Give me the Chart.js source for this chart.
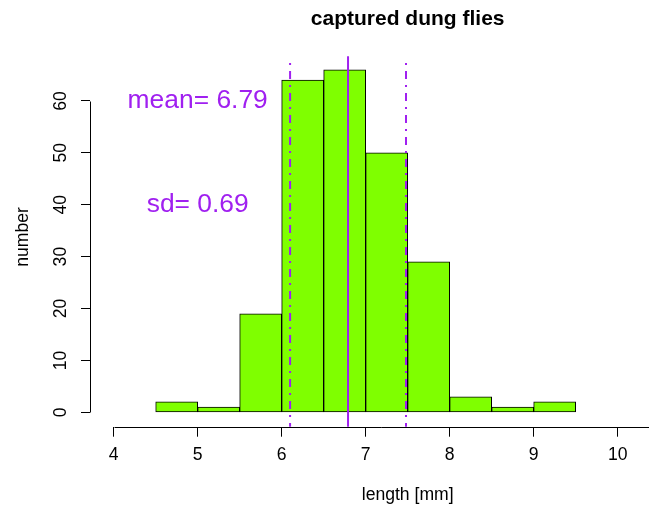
<!DOCTYPE html>
<html>
<head>
<meta charset="utf-8">
<script src="https://cdn.jsdelivr.net/npm/chart.js@4/dist/chart.umd.min.js"></script>
<style>html,body{margin:0;padding:0;background:#fff;}#wrap{width:649px;height:510px;position:relative;}</style>
</head>
<body>
<div id="wrap"><canvas id="c" width="649" height="510"></canvas></div>
<script>
// ---- data ----
const binStarts = [4.5, 5, 5.5, 6, 6.5, 7, 7.5, 8, 8.5, 9];
const binWidth = 0.5;
const counts = [2, 1, 19, 64, 66, 50, 29, 3, 1, 2];
const xTicks = [4, 5, 6, 7, 8, 9, 10];
const yTicks = [0, 10, 20, 30, 40, 50, 60];
const meanValue = 6.79;
const sdValue = 0.69;
const meanLineTop = 68.6;
const sdLineTop = 67.3;
const chartTitle = 'captured dung flies';
const xTitle = 'length [mm]';
const yTitle = 'number';
const meanLabel = 'mean= 6.79';
const sdLabel = 'sd= 0.69';
const meanLabelPos = [5, 60];
const sdLabelPos = [5, 40];

const FONT = "'Liberation Sans', Arial, Helvetica, sans-serif";
const PURPLE = '#A020F0';
Chart.defaults.font.family = FONT;

const barData = binStarts.map((s, i) => ({x: s + binWidth / 2, y: counts[i]}));

const decorPlugin = {
  id: 'decor',
  beforeDatasetsDraw(chart) {
    const {ctx, chartArea, scales: {x, y}} = chart;
    ctx.save();
    ctx.strokeStyle = '#000';
    ctx.lineWidth = 1;
    // x axis line
    const yb = Math.round(chartArea.bottom) + 0.5;
    ctx.beginPath();
    ctx.moveTo(Math.round(x.getPixelForValue(xTicks[0])) + 0.5, yb);
    ctx.lineTo(chart.width, yb);
    ctx.stroke();
    // y axis line
    const xl = Math.round(chartArea.left) + 0.5;
    ctx.beginPath();
    ctx.moveTo(xl, Math.round(y.getPixelForValue(yTicks[0])) + 0.5);
    ctx.lineTo(xl, Math.round(y.getPixelForValue(yTicks[yTicks.length - 1])) + 0.5);
    ctx.stroke();
    ctx.restore();
  },
  afterDatasetsDraw(chart) {
    const {ctx, chartArea, scales: {x, y}} = chart;
    ctx.save();
    // annotations
    ctx.fillStyle = PURPLE;
    ctx.font = '26.4px ' + FONT;
    ctx.textAlign = 'center';
    ctx.textBaseline = 'middle';
    ctx.fillText(meanLabel, x.getPixelForValue(meanLabelPos[0]), y.getPixelForValue(meanLabelPos[1]));
    ctx.fillText(sdLabel, x.getPixelForValue(sdLabelPos[0]), y.getPixelForValue(sdLabelPos[1]));
    // titles (centred on the full R plot region, which extends past the right edge)
    const cx = (x.getPixelForValue(3.72) + x.getPixelForValue(11.28)) / 2;
    ctx.fillStyle = '#000';
    ctx.font = 'bold 21px ' + FONT;
    ctx.textBaseline = 'alphabetic';
    ctx.fillText(chartTitle, cx, 25);
    ctx.font = '17.6px ' + FONT;
    ctx.fillText(xTitle, cx, 500);
    ctx.translate(28.3, 237);
    ctx.rotate(-Math.PI / 2);
    ctx.fillText(yTitle, 0, 0);
    ctx.restore();
  }
};

new Chart(document.getElementById('c'), {
  type: 'bar',
  data: {
    datasets: [
      {
        type: 'line', order: 0,
        data: [{x: meanValue, y: meanLineTop}, {x: meanValue, y: -10}],
        borderColor: PURPLE, borderWidth: 2, pointRadius: 0, fill: false, tension: 0
      },
      {
        type: 'line', order: 0,
        data: [{x: meanValue - sdValue, y: sdLineTop}, {x: meanValue - sdValue, y: -10}],
        borderColor: PURPLE, borderWidth: 2, borderDash: [2, 6, 8, 6], pointRadius: 0, fill: false, tension: 0
      },
      {
        type: 'line', order: 0,
        data: [{x: meanValue + sdValue, y: sdLineTop}, {x: meanValue + sdValue, y: -10}],
        borderColor: PURPLE, borderWidth: 2, borderDash: [2, 6, 8, 6], pointRadius: 0, fill: false, tension: 0
      },
      {
        type: 'bar', order: 1,
        data: barData,
        backgroundColor: '#7FFF00',
        borderColor: '#000',
        borderWidth: 1,
        borderSkipped: false,
        categoryPercentage: 1,
        barPercentage: 1
      }
    ]
  },
  options: {
    responsive: false,
    animation: false,
    devicePixelRatio: 1,
    layout: {padding: {top: 49, left: 0, right: 0, bottom: 0}},
    plugins: {legend: {display: false}, tooltip: {enabled: false}, title: {display: false}},
    scales: {
      x: {
        type: 'linear',
        min: 3.718,
        max: 10.373,
        offset: false,
        afterBuildTicks: (s) => { s.ticks = xTicks.map(v => ({value: v})); },
        afterFit: (s) => { s.height = 83.3; },
        border: {display: false},
        grid: {display: true, offset: false, drawOnChartArea: false, drawTicks: true, tickLength: 10, color: '#000'},
        ticks: {autoSkip: false, padding: 8.3, color: '#000', font: {size: 17.6}, maxRotation: 0}
      },
      y: {
        type: 'linear',
        min: -2.77,
        max: 70,
        afterBuildTicks: (s) => { s.ticks = yTicks.map(v => ({value: v})); },
        afterFit: (s) => { s.width = 90; },
        border: {display: false},
        grid: {display: true, offset: false, drawOnChartArea: false, drawTicks: true, tickLength: 9, color: '#000'},
        ticks: {autoSkip: false, padding: 10, color: '#000', font: {size: 17.6}, minRotation: 90, maxRotation: 90, crossAlign: 'center'}
      }
    }
  },
  plugins: [decorPlugin]
});
</script>
</body>
</html>
